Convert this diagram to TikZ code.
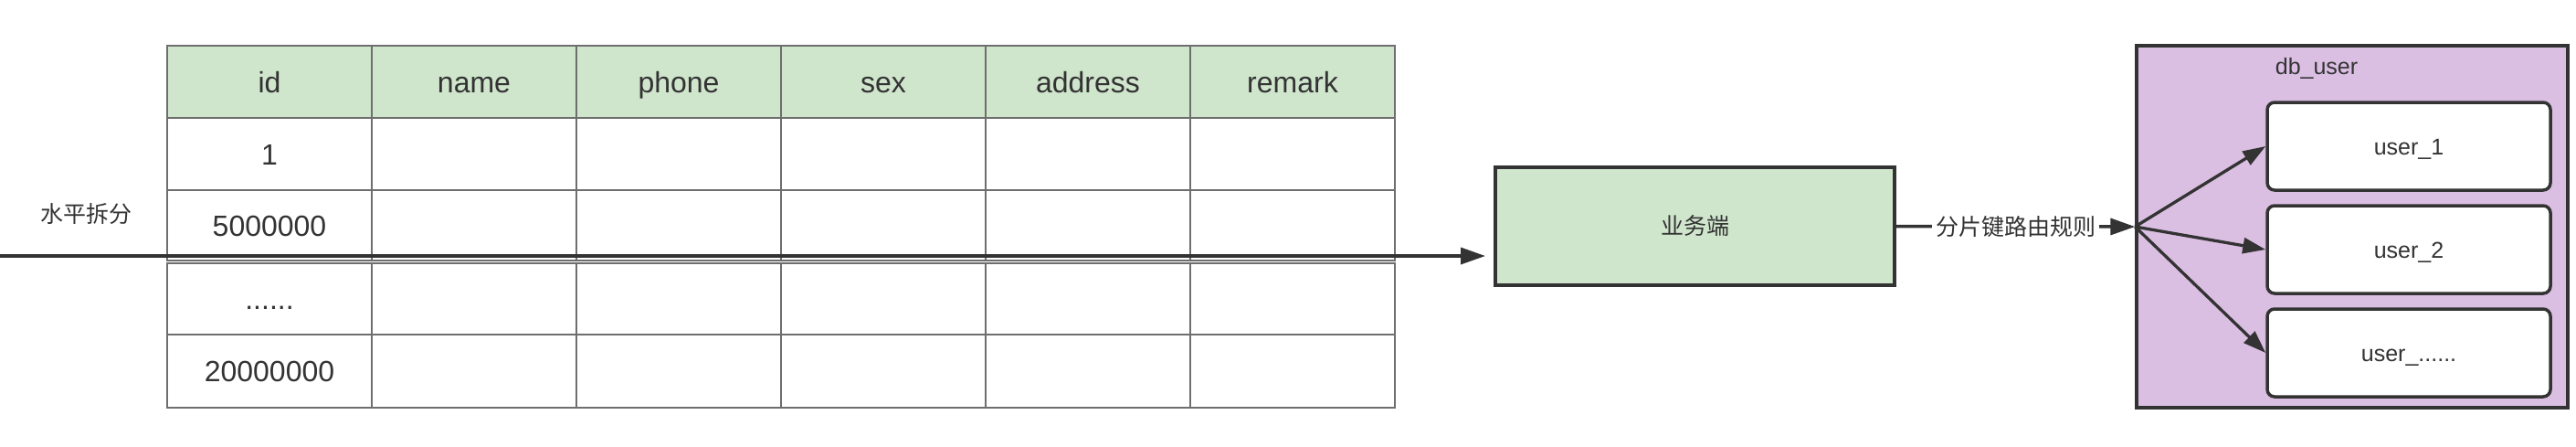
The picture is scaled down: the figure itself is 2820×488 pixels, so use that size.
\documentclass[tikz,border=0pt]{standalone}
\usepackage{fontspec}
\setmainfont{Liberation Sans}
\newfontfamily\cjk{Noto Sans CJK SC}
\usetikzlibrary{arrows.meta}
\definecolor{hdrgreen}{RGB}{207,229,204}
\definecolor{dbpurple}{RGB}{219,191,227}
\definecolor{darkline}{RGB}{51,51,51}
\definecolor{gridline}{RGB}{110,110,110}
\definecolor{txt}{RGB}{51,51,51}
\tikzset{
  celltext/.style={text=txt, font=\fontsize{32}{38}\selectfont, text height=23pt, text depth=0pt, inner sep=0pt},
  cell/.style={draw=gridline, line width=1.6pt, minimum width=224pt, inner sep=0pt, celltext},
  hdr/.style={cell, fill=hdrgreen},
  bizbox/.style={draw=darkline, line width=3.5pt, fill=hdrgreen, minimum width=437pt,
    minimum height=129pt, text=txt, font=\cjk\fontsize{25}{30}\selectfont},
  dbbox/.style={draw=darkline, line width=3.5pt, fill=dbpurple, minimum width=472pt,
    minimum height=396pt},
  userbox/.style={draw=darkline, line width=3.5pt, fill=white, rounded corners=8pt,
    minimum width=310pt, minimum height=96pt, text=txt, font=\fontsize{25}{30}\selectfont,
    text height=18pt, text depth=0pt},
  arr/.style={draw=darkline, line width=3.5pt,
    -{Triangle[length=27pt,width=18pt]}},
  farr/.style={draw=darkline, line width=3.3pt,
    -{Triangle[length=25pt,width=17pt]}},
  cjklabel/.style={text=txt, font=\cjk\fontsize{25}{30}\selectfont, inner sep=3pt},
}
\begin{document}
\begin{tikzpicture}[x=1pt,y=-1pt]
\useasboundingbox (0,0) rectangle (2820,488);
% table header
\foreach \name [count=\i] in {id,name,phone,sex,address,remark}{
  \node[hdr, minimum height=79pt] (h\i) at ({183+224*(\i-0.5)},89.5) {\name};
}
% rows
\foreach \i in {1,...,6}{
  \node[cell, minimum height=79pt] (ra\i) at ({183+224*(\i-0.5)},168.5) {};
  \node[cell, minimum height=77pt] (rb\i) at ({183+224*(\i-0.5)},246.5) {};
  \node[cell, minimum height=78pt] (rc\i) at ({183+224*(\i-0.5)},327) {};
  \node[cell, minimum height=80pt] (rd\i) at ({183+224*(\i-0.5)},406) {};
}
\node[celltext] (t1) at (ra1) {1};
\node[celltext] (t2) at (rb1) {5000000};
\node[celltext] (t3) at (rc1) {......};
\node[celltext] (t4) at (rd1) {20000000};
% horizontal split arrow
\coordinate (hstart) at (0,280);
\node[cjklabel] (split) at (94,234) {水平拆分};
% business box
\node[bizbox] (biz) at (1855.5,247.5) {业务端};
\coordinate (hend) at (1626,280);
\draw[arr] (hstart) -- (hend);
% db box
\node[dbbox] (db) at (2575,248) {};
\node[text=txt, font=\fontsize{25}{30}\selectfont] (dblab) at (2536,75) {db\_user};
\node[userbox] (u1) at (2637,160) {user\_1};
\node[userbox] (u2) at (2637,273) {user\_2};
\node[userbox] (u3) at (2637,386) {user\_......};
\draw[arr] (biz.east) -- node[cjklabel, fill=white, inner sep=4pt] (route) {分片键路由规则} (db.west);
\draw[farr] (db.west) -- (u1.west);
\draw[farr] (db.west) -- (u2.west);
\draw[farr] (db.west) -- (u3.west);
\end{tikzpicture}
\end{document}
